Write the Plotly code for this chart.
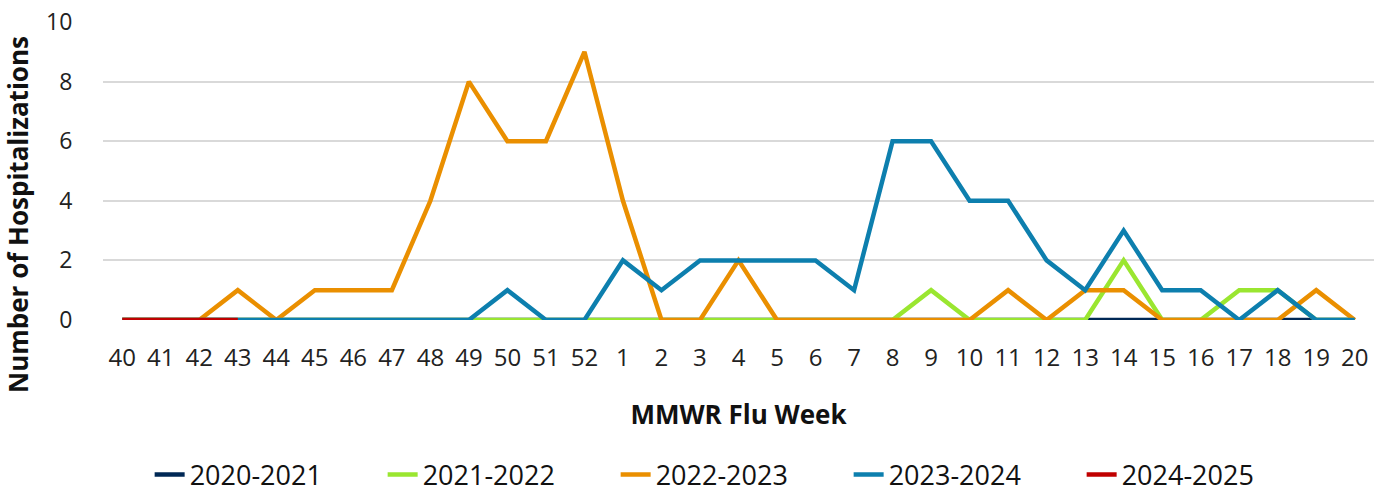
import plotly.graph_objects as go

weeks = [str(w) for w in list(range(40, 53)) + list(range(1, 21))]

s2020_2021 = [0] * 33
s2021_2022 = [0, 0, 0, 0, 0, 0, 0, 0, 0, 0, 0, 0, 0,
              0, 0, 0, 0, 0, 0, 0, 0, 1, 0, 0, 0, 0, 2, 0, 0, 1, 1, 0, 0]
s2022_2023 = [0, 0, 0, 1, 0, 1, 1, 1, 4, 8, 6, 6, 9,
              4, 0, 0, 2, 0, 0, 0, 0, 0, 0, 1, 0, 1, 1, 0, 0, 0, 0, 1, 0]
s2023_2024 = [0, 0, 0, 0, 0, 0, 0, 0, 0, 0, 1, 0, 0,
              2, 1, 2, 2, 2, 2, 1, 6, 6, 4, 4, 2, 1, 3, 1, 1, 0, 1, 0, 0]
s2024_2025 = [0, 0, 0, 0] + [None] * 29

series = [
    ("2020-2021", s2020_2021, "#002855"),
    ("2021-2022", s2021_2022, "#9ae630"),
    ("2022-2023", s2022_2023, "#ea8f00"),
    ("2023-2024", s2023_2024, "#0d7fae"),
    ("2024-2025", s2024_2025, "#c00000"),
]

fig = go.Figure()
for name, vals, color in series:
    fig.add_trace(go.Scatter(
        x=weeks, y=vals, name=name, mode="lines",
        line=dict(color=color, width=4.5),
        connectgaps=False,
    ))

font = "Open Sans, Noto Sans, sans-serif"
PLOT_L, PLOT_T, PLOT_W, PLOT_H = 103, 22, 1271, 298

fig.update_layout(
    width=1386, height=493,
    margin=dict(l=PLOT_L, r=1386 - PLOT_L - PLOT_W, t=PLOT_T, b=493 - PLOT_T - PLOT_H, autoexpand=False),
    paper_bgcolor="white", plot_bgcolor="white",
    font=dict(family=font, size=24, color="#222222"),
    showlegend=True,
    legend=dict(
        orientation="h", x=0.495, xanchor="center", y=-0.52, yanchor="middle",
        font=dict(size=27, color="#111111"),
        entrywidth=188, entrywidthmode="pixels",
        traceorder="normal",
    ),
    xaxis=dict(
        type="category", range=[-0.5, 32.5],
        showgrid=False, zeroline=False, showline=False,
        ticks="outside", ticklen=0, ticklabelstandoff=16,
        tickfont=dict(size=24, color="#222222"),
        title=dict(text="<b>MMWR Flu Week</b>", font=dict(size=26, color="#111111"), standoff=34),
    ),
    yaxis=dict(
        range=[0, 10], dtick=2, tick0=0,
        showgrid=True, gridcolor="#d9d9d9", gridwidth=1.5,
        zeroline=False, showline=False,
        ticks="outside", ticklen=0, ticklabelstandoff=25,
        tickfont=dict(size=23, color="#222222"),
    ),
    annotations=[dict(
        text="<b>Number of Hospitalizations</b>", textangle=-90,
        xref="paper", yref="paper",
        x=(18 - PLOT_L) / PLOT_W, y=(PLOT_T + PLOT_H - 215) / PLOT_H,
        xanchor="center", yanchor="middle", showarrow=False,
        font=dict(size=26, color="#111111"),
    )],
)

fig.write_html("out.html", config={"displayModeBar": False},
               post_script="document.body.style.margin='0';")
